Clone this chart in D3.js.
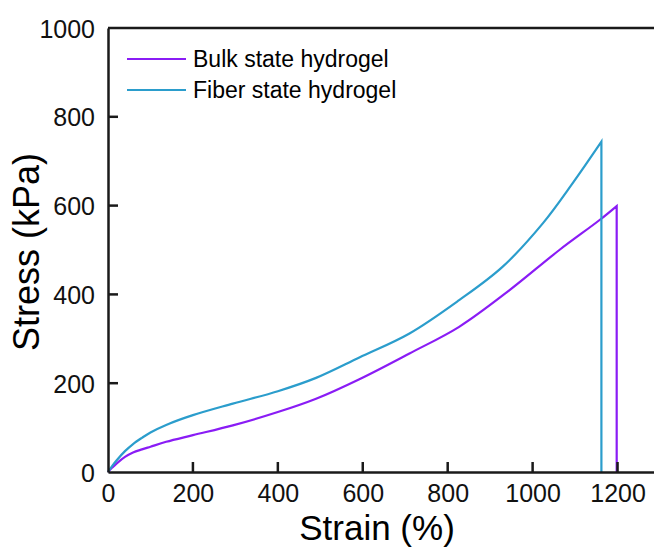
<!DOCTYPE html>
<html>
<head>
<meta charset="utf-8">
<script src="https://cdn.jsdelivr.net/npm/d3@7"></script>
<style>
body { margin: 0; background: #fff; }
text { font-family: "Liberation Sans", Arial, sans-serif; }
</style>
</head>
<body>
<div id="chart"></div>
<script>
// values
var bulkStrain = [0, 10, 20, 40, 59, 80, 100, 137, 200, 294, 400, 490, 592, 710, 827, 945, 1063, 1157, 1198, 1198];
var bulkStress = [0, 10, 19, 34, 44, 51, 57, 68, 83, 105, 135, 165, 209, 267, 327, 409, 500, 567, 599, 0];
var fiberStrain = [0, 10, 20, 40, 59, 80, 100, 137, 200, 294, 400, 490, 592, 710, 827, 929, 1024, 1094, 1162, 1162];
var fiberStress = [0, 14, 26, 47, 63, 77, 89, 106, 128, 154, 182, 212, 258, 312, 387, 462, 560, 650, 744, 0];
var xTicks = [0, 200, 400, 600, 800, 1000, 1200];
var yTicks = [0, 200, 400, 600, 800, 1000];
var seriesNames = ["Bulk state hydrogel", "Fiber state hydrogel"];
var seriesColors = ["#8a1cf5", "#2b9dcc"];

var W = 654, H = 549;
var margin = { top: 28, left: 108, bottom: 77, right: -6 };
var width = W - margin.left - margin.right,
    height = H - margin.top - margin.bottom;

var svg = d3.select("#chart").append("svg")
    .attr("width", W).attr("height", H)
  .append("g")
    .attr("transform", "translate(" + margin.left + "," + margin.top + ")");

var x = d3.scaleLinear().domain([0, 1300]).range([0, width]);
var y = d3.scaleLinear().domain([0, 1000]).range([height, 0]);

var series = [
    d3.zip(bulkStrain, bulkStress),
    d3.zip(fiberStrain, fiberStress)
];

var smooth = d3.line()
    .x(function(d) { return x(d[0]); })
    .y(function(d) { return y(d[1]); })
    .curve(d3.curveCatmullRom.alpha(0.5));
var straight = d3.line()
    .x(function(d) { return x(d[0]); })
    .y(function(d) { return y(d[1]); });

// curve up to the break, then a straight drop to zero
series.forEach(function(s, i) {
    svg.append("path")
        .attr("d", smooth(s.slice(0, s.length - 1)) + straight(s.slice(s.length - 2)).replace("M", "L"))
        .attr("fill", "none")
        .attr("stroke", seriesColors[i])
        .attr("stroke-width", 2.2)
        .attr("stroke-linejoin", "miter");
});

var xAxis = d3.axisBottom(x).tickValues(xTicks).tickFormat(d3.format("d"))
    .tickSize(0).tickPadding(12);
var yAxis = d3.axisLeft(y).tickValues(yTicks).tickFormat(d3.format("d"))
    .tickSize(0).tickPadding(13);

var gx = svg.append("g")
    .attr("transform", "translate(0," + height + ")")
    .call(xAxis);
var gy = svg.append("g").call(yAxis);

[gx, gy].forEach(function(g) {
    g.select(".domain").attr("stroke", "#1a1a1a").attr("stroke-width", 2.5);
    g.selectAll("text").attr("font-size", 25).attr("fill", "#111");
});
gy.selectAll("text").attr("dy", "0.36em");

// inward tick marks
svg.append("g").selectAll("line")
    .data(xTicks.filter(function(d) { return d > 0; }))
    .enter().append("line")
    .attr("x1", function(d) { return x(d); }).attr("x2", function(d) { return x(d); })
    .attr("y1", height).attr("y2", height - 10)
    .attr("stroke", "#1a1a1a").attr("stroke-width", 2.5);
svg.append("g").selectAll("line")
    .data(yTicks.filter(function(d) { return d > 0 && d < 1000; }))
    .enter().append("line")
    .attr("x1", 0).attr("x2", 10)
    .attr("y1", function(d) { return y(d); }).attr("y2", function(d) { return y(d); })
    .attr("stroke", "#1a1a1a").attr("stroke-width", 2.5);

// top frame line
svg.append("line")
    .attr("x1", 0).attr("x2", width)
    .attr("y1", 0).attr("y2", 0)
    .attr("stroke", "#1a1a1a").attr("stroke-width", 2.5);

svg.append("text")
    .attr("x", 269).attr("y", height + 68)
    .attr("text-anchor", "middle")
    .attr("font-size", 35)
    .text("Strain (%)");

svg.append("text")
    .attr("transform", "translate(" + (-69) + "," + (height / 2 + 2) + ") rotate(-90)")
    .attr("text-anchor", "middle")
    .attr("font-size", 36)
    .text("Stress (kPa)");

// legend
var legend = svg.append("g").attr("transform", "translate(19,31)");
seriesNames.forEach(function(name, i) {
    var row = legend.append("g").attr("transform", "translate(0," + (i * 31) + ")");
    row.append("line")
        .attr("x1", 0).attr("x2", 59)
        .attr("stroke", seriesColors[i]).attr("stroke-width", 2.2);
    row.append("text")
        .attr("x", 66).attr("y", 8)
        .attr("font-size", 23)
        .text(name);
});
</script>
</body>
</html>
